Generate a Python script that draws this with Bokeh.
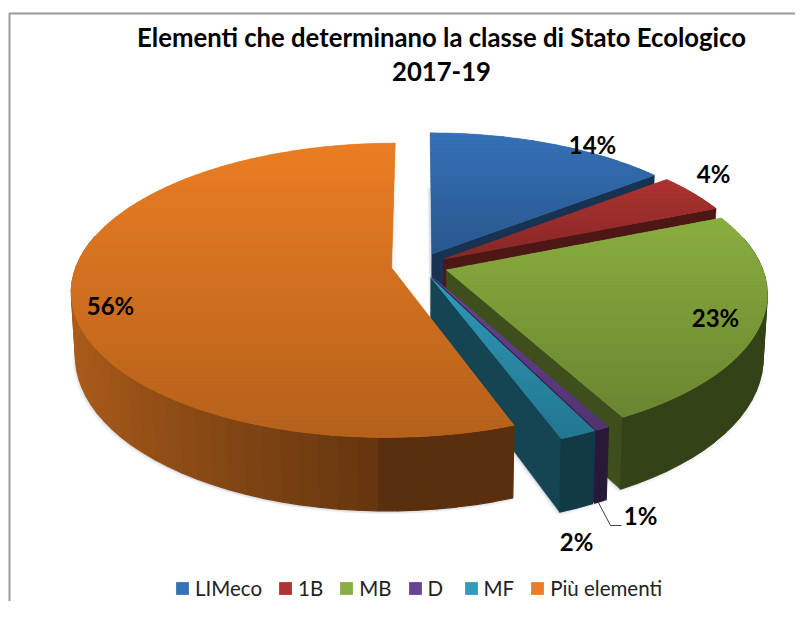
import numpy as np
from bokeh.plotting import figure
from bokeh.embed import file_html
from bokeh.resources import INLINE
from bokeh.core.properties import value
from bokeh.models import Range1d, Legend, LegendItem

# ---- data
categories = ["LIMeco", "1B", "MB", "D", "MF", "Più elementi"]
values = [14.4, 4.4, 23.4, 0.6, 1.6, 55.6]
title_lines = ["Elementi che determinano la classe di Stato Ecologico", "2017-19"]
colors = ["#3672B8", "#AD3432", "#8AAE40", "#6A4494", "#2F9ABA", "#EB7E24"]

# ---- layout of the 3D projection (page pixels)
CX, CY, RX, RY, K, EXPLODE, WALL = 419.0, 265.0, 315.0, 143.0, 0.153, 0.09, 62.0
LABEL_XY = [(592, 144), (713, 173), (715, 317), (640, 515), (576, 541), (110, 305)]
DRAW_ORDER = [0, 1, 2, 3, 4, 5]
FACE_DARKEN = 0.77
EDGE_SHADE = 0.45


def hex_rgb(c):
    return np.array([int(c[i:i + 2], 16) for i in (1, 3, 5)], dtype=float)


def shade(c, f):
    r = np.clip(hex_rgb(c) * f, 0, 255).astype(int)
    return "#%02x%02x%02x" % tuple(int(v) for v in r)


def top(rho, th, mid):
    U = rho * np.sin(th) + EXPLODE * np.sin(mid)
    V = -rho * np.cos(th) - EXPLODE * np.cos(mid)
    d = 1 - K * V
    return CX + RX * U / d, CY + RY * V / d


def bottom(rho, th, mid):
    U = rho * np.sin(th) + EXPLODE * np.sin(mid)
    V = -rho * np.cos(th) - EXPLODE * np.cos(mid)
    d = 1 - K * V
    return CX + 0.988 * RX * U / d, CY + RY * V / d + WALL / d


def clip_band(xs, ys, y0, y1):
    def clip(pts, keep, cross):
        out = []
        for i in range(len(pts)):
            a, b = pts[i - 1], pts[i]
            if keep(a[1]) != keep(b[1]):
                t = (cross - a[1]) / (b[1] - a[1])
                out.append((a[0] + t * (b[0] - a[0]), cross))
            if keep(b[1]):
                out.append(b)
        return out
    pts = list(zip(xs, ys))
    pts = clip(pts, lambda y: y >= y0, y0)
    if pts:
        pts = clip(pts, lambda y: y <= y1, y1)
    return pts


p = figure(width=795, height=601, output_backend="svg", toolbar_location=None,
           x_range=Range1d(0, 795), y_range=Range1d(601, 0),
           min_border=0, outline_line_color=None, background_fill_color="white")
p.axis.visible = False
p.grid.visible = False
p.xaxis.visible = False
p.yaxis.visible = False

# frame of the pasted picture
p.line([9, 9, 795], [601, 13, 13], line_color="#9a9a9a", line_width=2)

fractions = np.array(values) / sum(values) * 2 * np.pi
edges = np.concatenate([[0], np.cumsum(fractions)])

# soft shadow under the pie
for off, al in [((-3, 3), 0.05), ((-2, 2), 0.07), ((-1, 1), 0.09), ((2, 3), 0.05)]:
    for i in DRAW_ORDER:
        t0, t1 = edges[i], edges[i + 1]
        mid = (t0 + t1) / 2
        n = max(4, int((t1 - t0) / np.radians(2)))
        th = np.linspace(t0, t1, n)
        bx, by = bottom(1, th, mid)
        ax, ay = bottom(0, 0, mid)
        p.patch(list(np.r_[ax, bx] + off[0]), list(np.r_[ay, by] + off[1]),
                fill_color="#506070", fill_alpha=al, line_color=None)

legend_items = []
for i in DRAW_ORDER:
    t0, t1 = edges[i], edges[i + 1]
    mid = (t0 + t1) / 2
    col = colors[i]
    n = max(4, int((t1 - t0) / np.radians(1.5)))
    th = np.linspace(t0, t1, n)
    tx, ty = top(1, th, mid)
    ax, ay = top(0, 0, mid)
    bx0, by0 = bottom(0, 0, mid)
    mx, my = top(1, mid, mid)

    # radial walls that face the viewer (edge-on ones are skipped)
    for edge in (t0, t1):
        ex, ey = top(1, edge, mid)
        ebx, eby = bottom(1, edge, mid)
        dx, dy = ex - ax, ey - ay
        side_down = dx
        side_in = dx * (my - ay) - dy * (mx - ax)
        if side_down * side_in < 0 and abs(dx) > 0.2 * abs(dy):
            c = shade(col, EDGE_SHADE)
            p.patch([ax, ex, ebx, bx0], [ay, ey, eby, by0], fill_color=c,
                    line_color=c, line_width=0.5)

    # outer wall, in strips shaded by direction; the back of the rim is hidden
    xs, ys, cs = [], [], []
    wall_th = np.linspace(t0, t1, max(3, int((t1 - t0) / np.radians(3))))
    for a, b in zip(wall_th[:-1], wall_th[1:]):
        if np.cos((a + b) / 2) > 0.2:
            continue
        xa, ya = top(1, a, mid)
        xb, yb = top(1, b, mid)
        xc, yc = bottom(1, b, mid)
        xd, yd = bottom(1, a, mid)
        u = np.sin((a + b) / 2)
        f = 0.38 if u >= 0 else 0.42 + 0.32 * (-u)
        xs.append([xa, xb, xc, xd])
        ys.append([ya, yb, yc, yd])
        cs.append(shade(col, f))
    if xs:
        p.patches(xs, ys, fill_color=cs, line_color=cs, line_width=1.2)

    # top face: base polygon (carries the legend entry) then gradient bands
    fx, fy = np.r_[ax, tx], np.r_[ay, ty]
    base = p.patch(list(fx), list(fy), fill_color=col, line_color=None)
    legend_items.append(LegendItem(label=categories[i], renderers=[base]))
    ymin, ymax = fy.min(), fy.max()
    bands_x, bands_y, bands_c = [], [], []
    for y0 in np.arange(ymin, ymax, 4.0):
        pts = clip_band(fx, fy, y0, y0 + 4.0)
        if len(pts) < 3:
            continue
        t = (y0 + 2 - ymin) / max(ymax - ymin, 1)
        bands_x.append([q[0] for q in pts])
        bands_y.append([q[1] for q in pts])
        bands_c.append(shade(col, 1 - (1 - FACE_DARKEN) * t))
    p.patches(bands_x, bands_y, fill_color=bands_c, line_color=bands_c, line_width=0.5)

# leader of the 1 % label
i_d = categories.index("D")
mid_d = (edges[i_d] + edges[i_d + 1]) / 2
lx, ly = bottom(1, mid_d, mid_d)
p.line([lx - 2, LABEL_XY[i_d][0] - 30, LABEL_XY[i_d][0] - 19],
       [ly + 1, LABEL_XY[i_d][1] + 10, LABEL_XY[i_d][1] + 10],
       line_color="#404040", line_width=1)

# data labels
p.text([q[0] for q in LABEL_XY], [q[1] for q in LABEL_XY],
       text=[f"{round(v)}%" for v in values],
       text_font=value("Lato"), text_font_style="bold", text_font_size="24px",
       text_align="center", text_baseline="middle", text_color="#000000")

# title
p.text([441, 441], [36, 71], text=title_lines,
       text_font=value("Lato"), text_font_style="bold", text_font_size="25.7px",
       text_align="center", text_baseline="middle", text_color="#000000")

legend = Legend(items=legend_items, orientation="horizontal", location=(174, 1),
                glyph_width=16, glyph_height=16, label_standoff=5, spacing=15,
                padding=0, margin=0, border_line_color=None, background_fill_alpha=0,
                label_text_font="Lato", label_text_font_size="20.5px",
                label_text_color="#222222")
p.add_layout(legend, "center")

open("out.html", "w").write(file_html(p, INLINE))
